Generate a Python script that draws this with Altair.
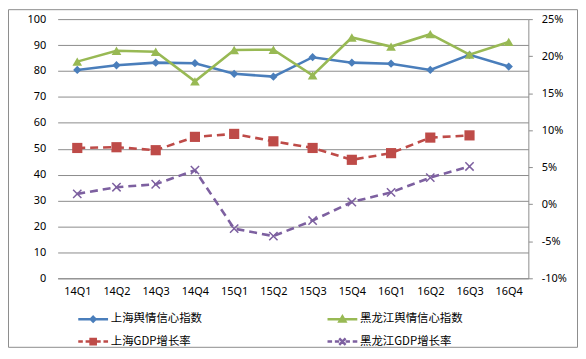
import altair as alt
import pandas as pd

quarters = ["14Q1", "14Q2", "14Q3", "14Q4", "15Q1", "15Q2",
            "15Q3", "15Q4", "16Q1", "16Q2", "16Q3", "16Q4"]
sh_index = [80.4, 82.2, 83.2, 83.0, 78.9, 77.8, 85.3, 83.2, 82.8, 80.4, 86.2, 81.7]
hlj_index = [83.6, 87.8, 87.4, 76.0, 88.1, 88.2, 78.3, 92.9, 89.4, 94.2, 86.3, 91.2]
sh_gdp = [7.6, 7.7, 7.3, 9.1, 9.5, 8.5, 7.6, 6.0, 6.9, 9.0, 9.3, None]
hlj_gdp = [1.4, 2.3, 2.7, 4.6, -3.3, -4.3, -2.2, 0.3, 1.6, 3.6, 5.1, None]

series_names = ["上海舆情信心指数", "黑龙江舆情信心指数", "上海GDP增长率", "黑龙江GDP增长率"]
series_colors = ["#4A7EBB", "#98B954", "#BE4B48", "#7D60A0"]
left_ticks = [0, 10, 20, 30, 40, 50, 60, 70, 80, 90, 100]
right_ticks = [-10, -5, 0, 5, 10, 15, 20, 25]

GRID = "#8c8c8c"
FONT = "Noto Sans"
CJK = "Noto Sans CJK SC"

df = pd.DataFrame({"q": quarters, "sh": sh_index, "hlj": hlj_index,
                   "shg": sh_gdp, "hljg": hlj_gdp})

x_enc = alt.X("q:N", sort=quarters, scale=alt.Scale(domain=quarters),
              axis=alt.Axis(title=None, labelAngle=0, ticks=False, domain=True,
                            domainColor=GRID, labelPadding=7))

left_axis = alt.Axis(title=None, orient="left", values=left_ticks, grid=True,
                     gridColor=GRID, domain=False, ticks=False, labelPadding=12)
right_axis = alt.Axis(title=None, orient="right", values=right_ticks, grid=False,
                      domain=True, domainColor=GRID, ticks=True, tickSize=4,
                      tickColor=GRID, labelPadding=9,
                      labelExpr="datum.value + '%'")
left_scale = alt.Scale(domain=[0, 100], nice=False, zero=False)
right_scale = alt.Scale(domain=[-10, 25], nice=False, zero=False)

base = alt.Chart(df)


def series(field, color, scale, axis, shape, size, dash=None, filled=True):
    y_enc = alt.Y(f"{field}:Q", scale=scale, axis=axis)
    line_kw = dict(color=color, strokeWidth=2.6)
    if dash:
        line_kw["strokeDash"] = dash
    line = base.mark_line(**line_kw).encode(x=x_enc, y=y_enc)
    pt_kw = dict(shape=shape, size=size, color=color, opacity=1, filled=filled)
    if not filled:
        pt_kw["strokeWidth"] = 1.5
    pts = base.mark_point(**pt_kw).encode(x=x_enc, y=y_enc)
    return [line, pts]


left = alt.layer(
    *series("sh", series_colors[0], left_scale, left_axis, "diamond", 70),
    *series("hlj", series_colors[1], left_scale, left_axis, "triangle-up", 95),
)
right = alt.layer(
    *series("shg", series_colors[2], right_scale, right_axis, "square", 105, dash=[8, 5]),
    *series("hljg", series_colors[3], right_scale, right_axis,
            "M-1,-1L1,1M-1,1L1,-1", 70, dash=[8, 5], filled=False),
)

# chart-area border
border = alt.Chart(pd.DataFrame({"b": [0]})).mark_rect(
    fill="transparent", stroke="#8c8c8c", strokeWidth=1, clip=False
).encode(x=alt.value(-49.5), x2=alt.value(523.5),
         y=alt.value(-9.5), y2=alt.value(330.5))

# legend symbols: line + marker
legend_paths = [
    "M-3.75,0H3.75M0,-0.6L0.6,0L0,0.6L-0.6,0Z",
    "M-3.75,0H3.75M0,-0.7L0.75,0.6L-0.75,0.6Z",
    "M-3.75,0H-2.6M-1.9,0H-0.8M0.8,0H1.9M2.6,0H3.75M-0.65,-0.65H0.65V0.65H-0.65Z",
    "M-3.75,0H-2.6M-1.9,0H-0.8M0.8,0H1.9M2.6,0H3.75M-0.8,-0.8L0.8,0.8M-0.8,0.8L0.8,-0.8",
]
leg = alt.Legend(title=None, orient="none", legendX=30, legendY=296, columns=2,
                 direction="horizontal",
                 columnPadding=120, rowPadding=6, symbolSize=64,
                 symbolStrokeWidth=2.5, labelOffset=12, labelFont=CJK,
                 labelFontSize=11.5, labelColor="#000000", symbolOpacity=1)
legend_layer = alt.Chart(pd.DataFrame({"name": series_names})).transform_filter(
    "false"
).mark_point(filled=True, size=64, opacity=1, strokeWidth=2.5).encode(
    fill=alt.Fill("name:N", scale=alt.Scale(domain=series_names, range=series_colors), legend=leg),
    stroke=alt.Stroke("name:N", scale=alt.Scale(domain=series_names, range=series_colors), legend=leg),
    shape=alt.Shape("name:N", scale=alt.Scale(domain=series_names, range=legend_paths), legend=leg),
)

chart = alt.layer(border, left, right, legend_layer).resolve_scale(
    y="independent"
).properties(
    width=474, height=261,
    autosize=alt.AutoSizeParams(type="none"),
    padding={"left": 50, "top": 10, "right": 50, "bottom": 69},
).configure_view(stroke=None).configure_axis(
    labelFont=FONT, labelFontSize=11, labelColor="#000000"
)

chart.save("out.html", embed_options={"renderer": "svg", "actions": False})
